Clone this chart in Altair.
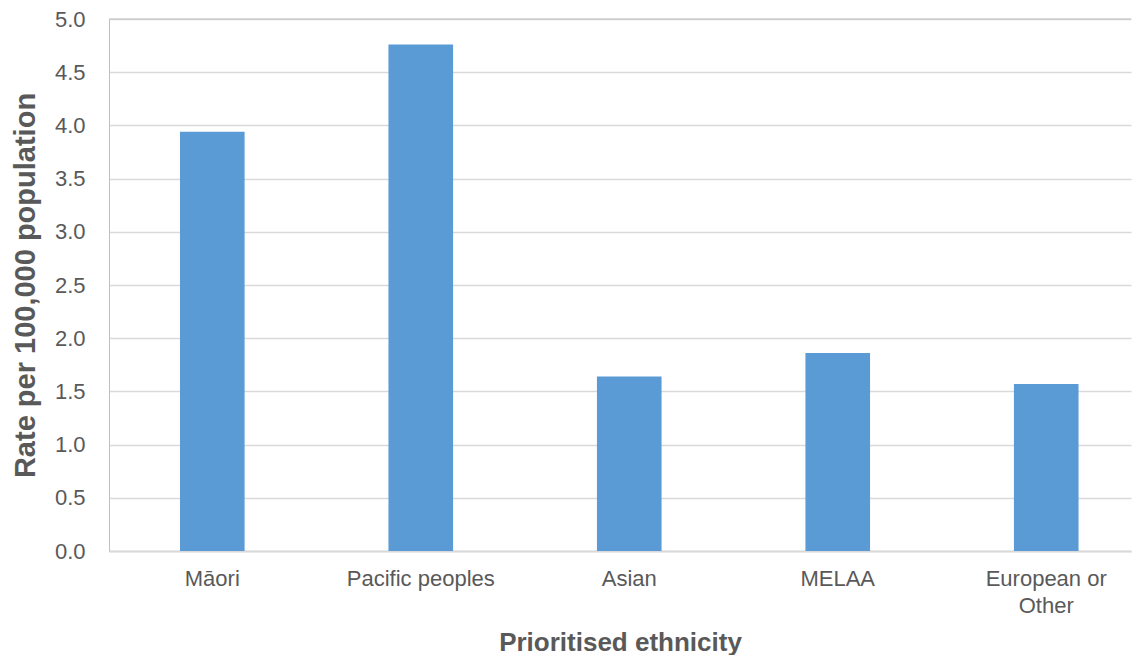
import altair as alt
import pandas as pd

categories = ["Māori", "Pacific peoples", "Asian", "MELAA", "European or Other"]
rates = [3.94, 4.76, 1.64, 1.86, 1.57]
y_ticks = [0.0, 0.5, 1.0, 1.5, 2.0, 2.5, 3.0, 3.5, 4.0, 4.5, 5.0]
y_max = [5.0]

df = pd.DataFrame({"ethnicity": categories, "rate": rates})
top_df = pd.DataFrame({"y": y_max})

FONT = "Liberation Sans"
TXT = "#595959"

bars = alt.Chart(df).mark_bar(color="#5b9bd5").encode(
    x=alt.X(
        "ethnicity:N",
        sort=categories,
        scale=alt.Scale(paddingInner=0.69, paddingOuter=0.296, align=0.575),
        axis=alt.Axis(
            title="Prioritised ethnicity",
            labelAngle=0,
            labelExpr="datum.value == 'European or Other' ? ['European or', 'Other'] : datum.value",
            labelFont=FONT,
            labelFontSize=22,
            labelColor=TXT,
            labelLineHeight=27,
            labelPadding=17,
            ticks=False,
            domainColor="#d9d9d9",
            domainWidth=2,
            titleFont=FONT,
            titleFontSize=26,
            titleFontWeight="bold",
            titleColor=TXT,
            titlePadding=13,
        ),
    ),
    y=alt.Y(
        "rate:Q",
        scale=alt.Scale(domain=[0, 5], nice=False),
        axis=alt.Axis(
            title="Rate per 100,000 population",
            values=y_ticks,
            format=".1f",
            labelFont=FONT,
            labelFontSize=22,
            labelColor=TXT,
            labelPadding=24,
            ticks=False,
            domainColor="#bfbfbf",
            domainWidth=1,
            gridColor="#d9d9d9",
            gridWidth=1.3,
            titleFont=FONT,
            titleFontSize=29,
            titleFontWeight="bold",
            titleColor=TXT,
            titlePadding=14,
        ),
    ),
)

top_line = alt.Chart(top_df).mark_rule(color="#bfbfbf", strokeWidth=1).encode(y="y:Q")

chart = (
    alt.layer(bars, top_line)
    .properties(width=1022, height=532, padding={"left": 3, "top": 0, "right": 0, "bottom": 0})
    .configure_view(stroke=None)
)

chart.save("out.html", embed_options={"renderer": "svg", "actions": False})
